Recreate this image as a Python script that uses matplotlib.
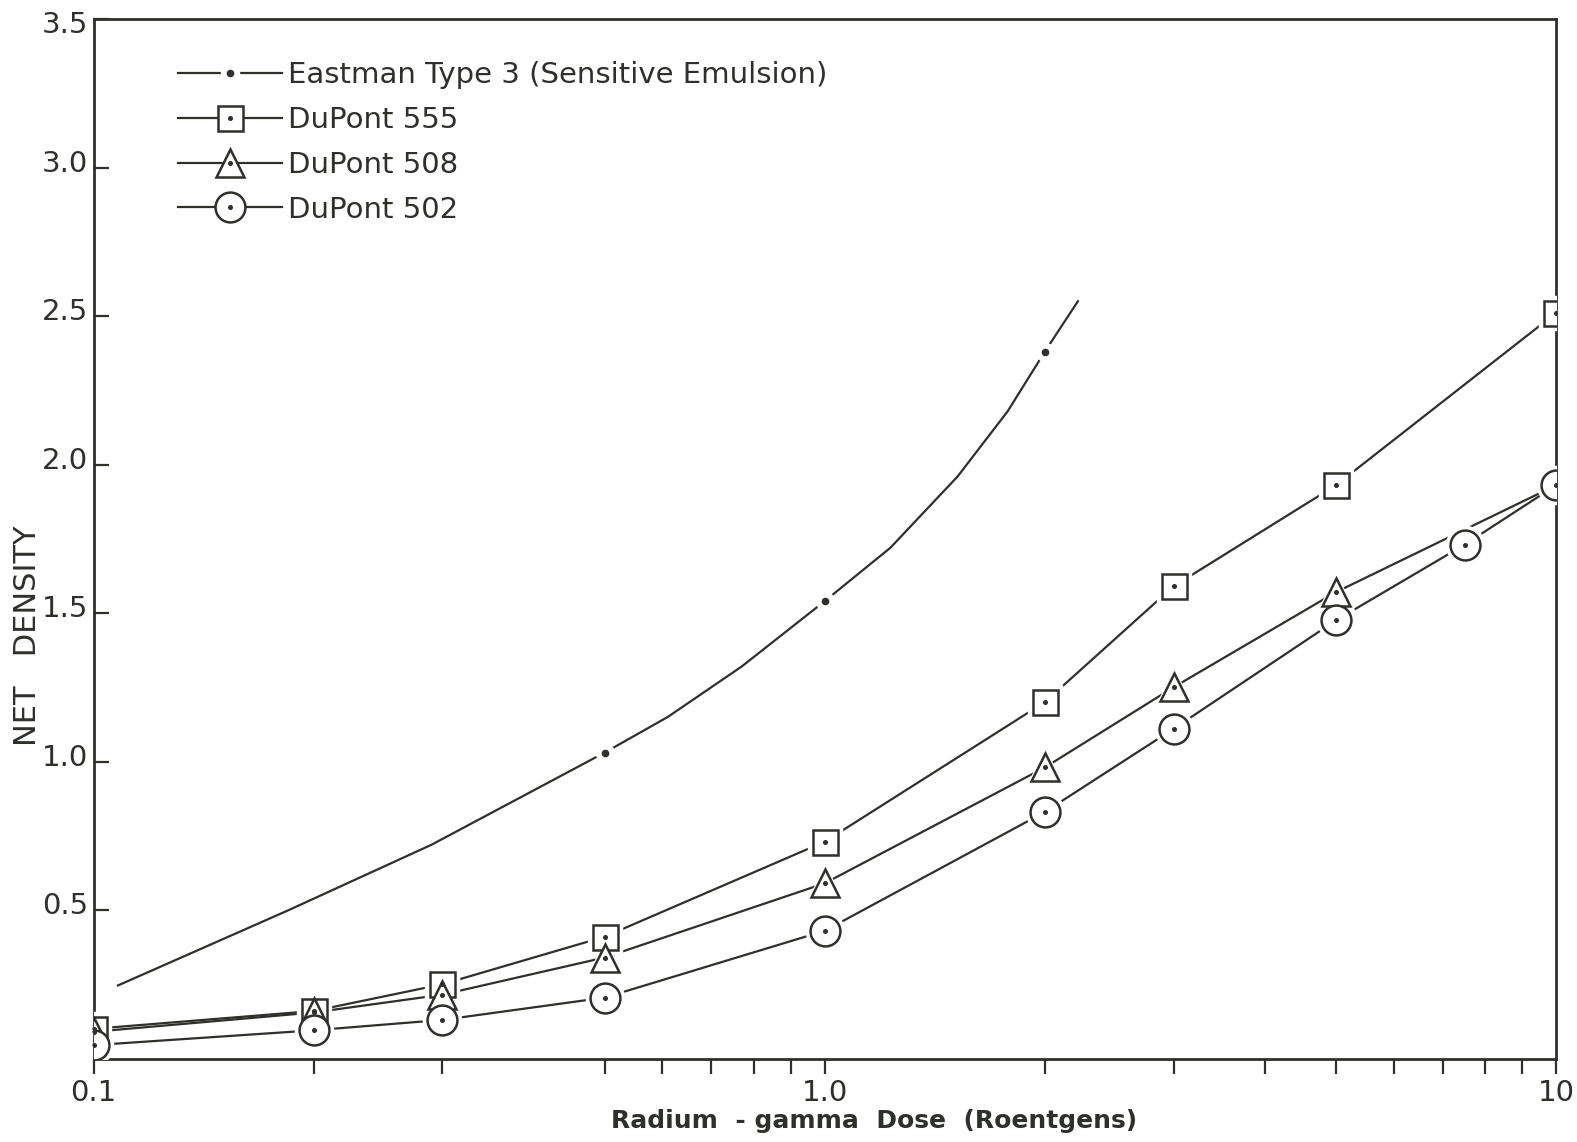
"""Net density vs radium-gamma dose for four film types (log dose axis)."""
import matplotlib
matplotlib.use("Agg")
import matplotlib.pyplot as plt
import matplotlib.transforms as mtransforms
from matplotlib.lines import Line2D
from matplotlib.legend_handler import HandlerTuple
from matplotlib.ticker import FixedLocator, NullFormatter

INK = "#2e302c"

# values
eastman_dose = [0.108, 0.185, 0.29, 0.5, 0.61, 0.77, 1.0, 1.23, 1.52, 1.78,
                2.0, 2.22]
eastman_density = [0.246, 0.50, 0.72, 1.03, 1.15, 1.32, 1.54, 1.72, 1.96,
                   2.18, 2.38, 2.55]
eastman_dots = [3, 6, 10]

dupont555_dose = [0.1, 0.2, 0.3, 0.5, 1.0, 2.0, 3.0, 5.0, 10.0]
dupont555_density = [0.10, 0.16, 0.25, 0.41, 0.73, 1.20, 1.59, 1.93, 2.51]

dupont508_dose = [0.1, 0.2, 0.3, 0.5, 1.0, 2.0, 3.0, 5.0, 10.0]
dupont508_density = [0.09, 0.155, 0.215, 0.34, 0.59, 0.98, 1.25, 1.57, 1.93]

dupont502_dose = [0.1, 0.2, 0.3, 0.5, 1.0, 2.0, 3.0, 5.0, 7.5, 10.0]
dupont502_density = [0.045, 0.095, 0.13, 0.205, 0.43, 0.83, 1.11, 1.475, 1.73, 1.93]

labels = ["Eastman Type 3 (Sensitive Emulsion)", "DuPont 555",
          "DuPont 508", "DuPont 502"]

x_major = [0.1, 1.0, 10.0]
x_major_labels = ["0.1", "1.0", "10"]
# the 0.4 tick is missing on the original drawing
x_minor = [0.2, 0.3, 0.5, 0.6, 0.7, 0.8, 0.9, 2, 3, 4, 5, 6, 7, 8, 9]
y_ticks = [0.5, 1.0, 1.5, 2.0, 2.5, 3.0, 3.5]
y_tick_labels = ["0.5", "1.0", "1.5", "2.0", "2.5", "3.0", "3.5"]

plt.rcParams["font.family"] = ["DejaVu Sans"]

fig = plt.figure(figsize=(15.77, 11.42), dpi=100)
ax = fig.add_axes([0.0593, 0.0731, 0.9273, 0.9102])
ax.set_xscale("log")
ax.set_xlim(0.1, 10)
ax.set_ylim(0, 3.5)


def marked_series(x, y, marker, size, every=None):
    ax.plot(x, y, color=INK, lw=1.6, zorder=2, clip_on=False)
    # white halo so the curve stops short of each symbol
    ax.plot(x, y, ls="none", marker=marker, ms=size + 6, mfc="white",
            mec="white", markevery=every, zorder=3)
    ax.plot(x, y, ls="none", marker=marker, ms=size, mfc="white",
            mec=INK, mew=1.8, markevery=every, zorder=4)
    ax.plot(x, y, ls="none", marker="o", ms=2.6, color=INK,
            markevery=every, zorder=5)


# Eastman: plain curve broken around dots
ax.plot(eastman_dose, eastman_density, color=INK, lw=1.6, zorder=2,
        solid_joinstyle="round")
ax.plot(eastman_dose, eastman_density, ls="none", marker="o", ms=13,
        mfc="white", mec="white", markevery=eastman_dots, zorder=3)
ax.plot(eastman_dose, eastman_density, ls="none", marker="o", ms=4.5,
        color=INK, markevery=eastman_dots, zorder=5)

marked_series(dupont555_dose, dupont555_density, "s", 18)
marked_series(dupont508_dose, dupont508_density, "^", 20,
              every=list(range(len(dupont508_dose) - 1)))
marked_series(dupont502_dose, dupont502_density, "o", 21.5)

# legend handles
east_handle = (Line2D([], [], color=INK, lw=1.6, marker="o", ms=13,
                      mfc="white", mec="white"),
               Line2D([], [], ls="none", marker="o", ms=4.5, color=INK))


def leg(marker, size):
    return (Line2D([], [], color=INK, lw=1.6, marker=marker, ms=size,
                   mfc="white", mec=INK, mew=1.8),
            Line2D([], [], ls="none", marker="o", ms=2.6, color=INK))


handles = [east_handle, leg("s", 18), leg("^", 20), leg("o", 21.5)]
lg = ax.legend(handles, labels, loc="upper left", bbox_to_anchor=(0.050, 0.971),
               frameon=False, fontsize=21, handlelength=3.56, handletextpad=0.2,
               labelspacing=0.58, borderaxespad=0,
               handler_map={tuple: HandlerTuple(ndivide=1)})
for t in lg.get_texts():
    t.set_color(INK)

# axes styling
for s in ax.spines.values():
    s.set_color(INK)
    s.set_linewidth(2.0)

ax.xaxis.set_major_locator(FixedLocator(x_major))
ax.xaxis.set_minor_locator(FixedLocator(x_minor))
ax.xaxis.set_minor_formatter(NullFormatter())
ax.set_xticklabels(x_major_labels)
ax.tick_params(axis="x", which="both", direction="out", length=11, width=1.6,
               color=INK, labelsize=21, labelcolor=INK, pad=4)

ax.set_yticks(y_ticks)
ax.set_yticklabels(y_tick_labels)
ax.tick_params(axis="y", which="both", direction="in", length=11, width=1.6,
               color=INK, labelsize=21, labelcolor=INK, pad=4)
for t in ax.get_yticklabels():
    dy = -2 if t.get_text() == "3.5" else 5
    shift = mtransforms.ScaledTranslation(0, dy / 72, fig.dpi_scale_trans)
    t.set_transform(t.get_transform() + shift)

ax.set_xlabel("Radium  - gamma  Dose  (Roentgens)", fontsize=18,
              fontweight="bold", color=INK)
ax.xaxis.set_label_coords(0.534, -0.049)
ax.set_ylabel("NET   DENSITY", fontsize=22, color=INK)
ax.yaxis.set_label_coords(-0.035, 0.407)

fig.savefig("out.png", dpi=100)
